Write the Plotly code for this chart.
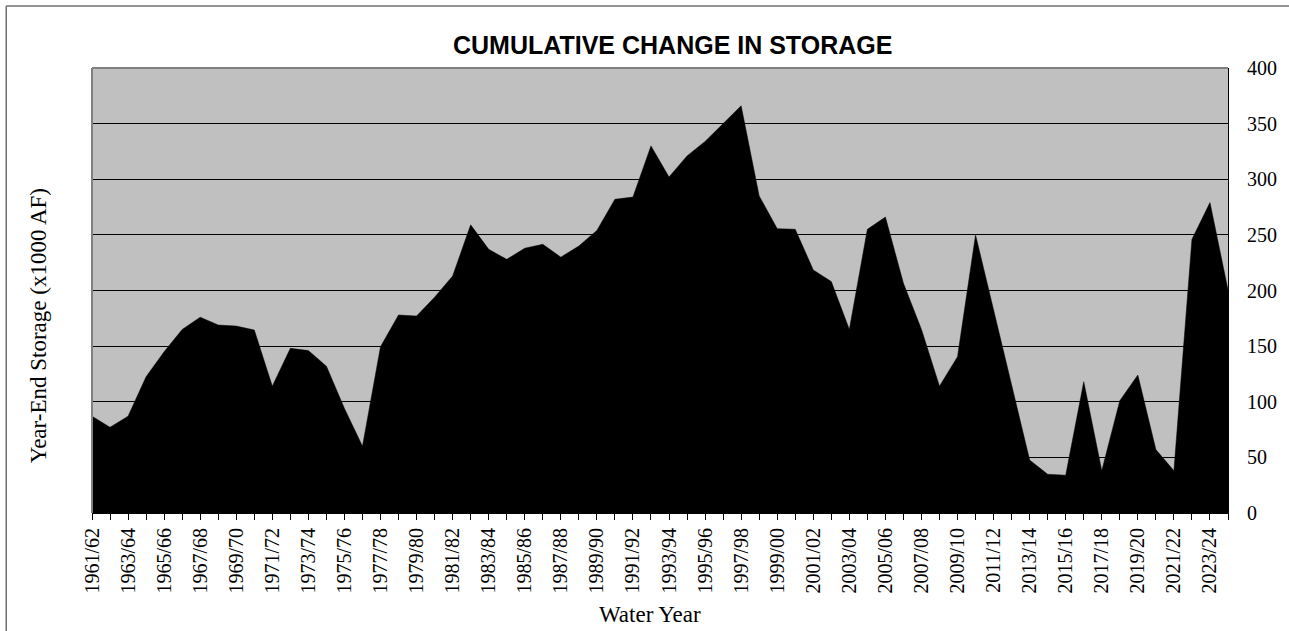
import plotly.graph_objects as go

# ---- data ----
start_years = list(range(1961, 2025))
water_years = [f"{y}/{(y + 1) % 100:02d}" for y in start_years]
storage = [87, 77, 87, 122.5, 145, 165, 176, 169, 168, 164.5,
           114, 148, 146, 132, 94, 60, 149.5, 178, 177, 194,
           213, 259, 237, 228, 238, 241.5, 230, 240, 254, 282,
           284, 330, 302, 321, 334, 350, 366, 285, 255.6, 255,
           218.5, 208, 165, 255, 266, 206.5, 165, 114, 140.5, 250,
           183, 115, 47.6, 34.8, 34, 118, 38, 101, 124, 57,
           38, 246, 279, 200.5]
y_ticks = [0, 50, 100, 150, 200, 250, 300, 350, 400]

idx = list(range(len(water_years)))
tick_text = [lab if i % 2 == 0 else "" for i, lab in enumerate(water_years)]

W, H = 1289, 631
L, R, T, B = 92, 58, 68, 118
pw, ph = W - L - R, H - T - B


def px(x):
    return (x - L) / pw


def py(y):
    return (H - B - y) / ph


serif = "Liberation Serif, Times New Roman, serif"

fig = go.Figure()
fig.add_trace(go.Scatter(
    x=idx, y=storage, mode="lines", fill="tozeroy",
    fillcolor="black", line=dict(color="black", width=0.5),
    hoverinfo="skip", showlegend=False,
))

fig.update_layout(
    width=W, height=H, autosize=False,
    margin=dict(l=L, r=R, t=T, b=B),
    paper_bgcolor="white", plot_bgcolor="#C0C0C0",
    showlegend=False,
    xaxis=dict(
        range=[0, len(idx) - 1], tickmode="array", tickvals=idx, ticktext=tick_text,
        tickangle=-90, ticks="outside", ticklen=6, tickcolor="black", tickwidth=1,
        showline=True, linecolor="black", linewidth=1, showgrid=False, zeroline=False,
        tickfont=dict(family=serif, size=20, color="black"),
    ),
    yaxis=dict(
        side="right", range=[0, 400], tickmode="array", tickvals=y_ticks,
        showgrid=True, gridcolor="black", gridwidth=1, zeroline=False,
        showline=True, linecolor="black", linewidth=1, ticks="",
        ticklabelstandoff=14,
        tickfont=dict(family=serif, size=20, color="black"),
    ),
    shapes=[
        dict(type="line", xref="paper", yref="paper", x0=0, x1=1, y0=1, y1=1,
             line=dict(color="#808080", width=2), layer="above"),
        dict(type="line", xref="paper", yref="paper", x0=0, x1=0, y0=0, y1=1,
             line=dict(color="#808080", width=2), layer="above"),
        # outer frame (top and left edges visible)
        dict(type="line", xref="paper", yref="paper",
             x0=px(6), x1=px(W + 10), y0=py(6), y1=py(6),
             line=dict(color="#707070", width=1.5), layer="below"),
        dict(type="line", xref="paper", yref="paper",
             x0=px(6), x1=px(6), y0=py(6), y1=py(H + 10),
             line=dict(color="#707070", width=1.5), layer="below"),
    ],
    annotations=[
        dict(text="<b>CUMULATIVE CHANGE IN STORAGE</b>", xref="paper", yref="paper",
             x=px(674), y=py(45), xanchor="center", yanchor="middle", showarrow=False,
             font=dict(family="Liberation Sans, Arial, sans-serif", size=25, color="black")),
        dict(text="Water Year", xref="paper", yref="paper",
             x=px(651), y=py(614), xanchor="center", yanchor="middle", showarrow=False,
             font=dict(family=serif, size=23, color="black")),
        dict(text="Year-End Storage (x1000 AF)", xref="paper", yref="paper",
             x=px(38), y=py(326), xanchor="center", yanchor="middle", showarrow=False,
             textangle=-90,
             font=dict(family=serif, size=23, color="black")),
    ],
)

fig.write_html("out.html", config={"displayModeBar": False},
               post_script="document.body.style.margin='0';document.body.style.overflow='hidden';")
